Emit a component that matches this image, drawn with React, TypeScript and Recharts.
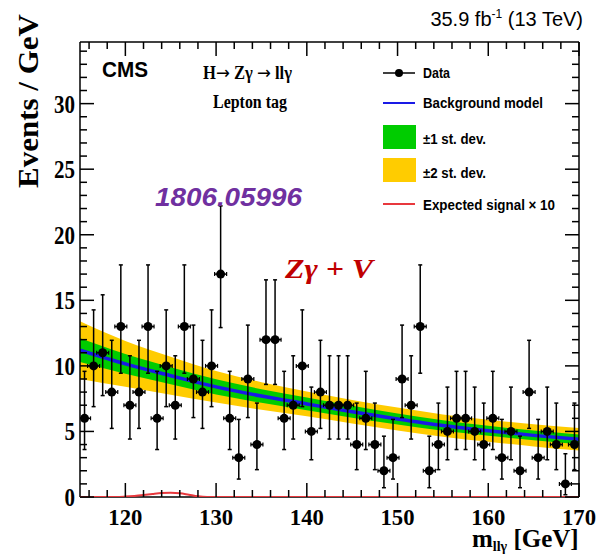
import { ComposedChart, Area, Line, Scatter, ErrorBar, XAxis, YAxis } from 'recharts'

// observed events per 1 GeV bin, 115-116 ... 169-170
const counts = [
  6, 10, 11, 8, 13, 7, 8, 13, 6, 10,
  7, 13, 9, 8, 10, 17, 6, 3, 9, 4,
  12, 12, 6, 7, 10, 5, 8, 7, 7, 7,
  4, 6, 4, 2, 3, 9, 7, 13, 2, 4,
  5, 6, 6, 5, 4, 6, 3, 5, 2, 8,
  3, 5, 4, 1, 4,
]
const binCenters = counts.map((_, i) => 115.5 + i)

// Garwood 68% interval bounds, indexed by observed count
const poissonLo = [0, 0.173, 0.708, 1.367, 2.086, 2.84, 3.62, 4.419, 5.232, 6.057, 6.891, 7.734, 8.585, 9.441, 10.3, 11.17, 12.04, 12.92]
const poissonHi = [1.841, 3.3, 4.638, 5.918, 7.163, 8.382, 9.584, 10.77, 11.95, 13.11, 14.27, 15.42, 16.56, 17.7, 18.83, 19.96, 21.08, 22.2]

// background fit and its uncertainty bands
const gridMass = [115, 120, 125, 130, 135, 140, 145, 150, 155, 160, 165, 170]
const bkgModel = [11.2, 10.15, 9.25, 8.4, 7.7, 7.1, 6.5, 5.95, 5.45, 5.05, 4.7, 4.4]
const band1 = [0.9, 0.75, 0.65, 0.58, 0.52, 0.48, 0.45, 0.42, 0.4, 0.38, 0.37, 0.37]
const band2 = [2.2, 1.75, 1.45, 1.2, 1.05, 0.95, 0.9, 0.87, 0.85, 0.84, 0.84, 0.86]

// expected signal x 10
const sigMass = [115, 119, 120, 121, 122, 123, 124, 125, 126, 127, 128, 129, 170]
const sigValues = [0, 0, 0.03, 0.08, 0.15, 0.23, 0.3, 0.33, 0.29, 0.17, 0.05, 0, 0]

const xTicks = [116, 118, 120, 122, 124, 126, 128, 130, 132, 134, 136, 138, 140, 142, 144, 146, 148, 150, 152, 154, 156, 158, 160, 162, 164, 166, 168, 170]
const yTicks = [0, 1, 2, 3, 4, 5, 6, 7, 8, 9, 10, 11, 12, 13, 14, 15, 16, 17, 18, 19, 20, 21, 22, 23, 24, 25, 26, 27, 28, 29, 30, 31, 32, 33, 34]

const points = counts.map((n, i) => ({
  x: binCenters[i],
  n,
  err: [n - poissonLo[n], poissonHi[n] - n],
}))

const bandRows = gridMass.map((x, i) => ({
  x,
  bkg: bkgModel[i],
  s1: [bkgModel[i] - band1[i], bkgModel[i] + band1[i]],
  s2: [bkgModel[i] - band2[i], bkgModel[i] + band2[i]],
}))

const sigRows = sigMass.map((x, i) => ({ x, sig: sigValues[i] }))

const SERIF = '"Liberation Serif", "Times New Roman", serif'
const SANS = '"Liberation Sans", Arial, sans-serif'

function BottomTick({ x, y, payload }: any) {
  const major = payload.value % 10 === 0
  return (
    <g>
      <line x1={x} y1={y} x2={x} y2={y - (major ? 14 : 7)} stroke="#000" strokeWidth={1.5} />
      {major && (
        <text x={x} y={y + 28} textAnchor="middle" fontFamily={SERIF} fontWeight="bold" fontSize={24}
          textLength={34} lengthAdjust="spacingAndGlyphs" fill="#000">
          {payload.value}
        </text>
      )}
    </g>
  )
}

function TopTick({ x, y, payload }: any) {
  const major = payload.value % 10 === 0
  return <line x1={x} y1={y} x2={x} y2={y + (major ? 14 : 7)} stroke="#000" strokeWidth={1.5} />
}

function LeftTick({ x, y, payload }: any) {
  const major = payload.value % 5 === 0
  const label = String(payload.value)
  return (
    <g>
      <line x1={x} y1={y} x2={x + (major ? 14 : 7)} y2={y} stroke="#000" strokeWidth={1.5} />
      {major && (
        <text x={x - 5} y={y + 9} textAnchor="end" fontFamily={SERIF} fontWeight="bold" fontSize={26}
          textLength={label.length * 10.5} lengthAdjust="spacingAndGlyphs" fill="#000">
          {label}
        </text>
      )}
    </g>
  )
}

function RightTick({ x, y, payload }: any) {
  const major = payload.value % 5 === 0
  return <line x1={x} y1={y} x2={x - (major ? 14 : 7)} y2={y} stroke="#000" strokeWidth={1.5} />
}

function DataMarker({ cx, cy }: any) {
  if (cx == null || cy == null) return <g />
  return (
    <g>
      <line x1={cx - 6} x2={cx + 6} y1={cy} y2={cy} stroke="#000" strokeWidth={1.5} />
      <line x1={cx - 6} x2={cx - 6} y1={cy - 2} y2={cy + 2} stroke="#000" strokeWidth={1.2} />
      <line x1={cx + 6} x2={cx + 6} y1={cy - 2} y2={cy + 2} stroke="#000" strokeWidth={1.2} />
      <circle cx={cx} cy={cy} r={4.5} fill="#000" />
    </g>
  )
}

function Overlay() {
  const leg = { fontFamily: SANS, fontWeight: 'bold' as const, fontSize: 15, fill: '#000' }
  const arrow = { fontFamily: '"DejaVu Sans", sans-serif', fontWeight: 'normal' as const }
  return (
    <svg width={597} height={556} style={{ position: 'absolute', left: 0, top: 0, pointerEvents: 'none' }}>
      <text x={583} y={26} textAnchor="end" fontFamily={SANS} fontSize={20} fill="#000">
        35.9 fb<tspan fontSize={12} dy={-8}>-1</tspan><tspan dy={8}> (13 TeV)</tspan>
      </text>
      <text transform="translate(38,14) rotate(-90)" textAnchor="end" fontFamily={SERIF} fontWeight="bold"
        fontSize={29} textLength={174} lengthAdjust="spacingAndGlyphs" fill="#000">
        Events / GeV
      </text>
      <text x={472} y={547} fontFamily={SERIF} fontWeight="bold" fontSize={25} fill="#000">
        m<tspan fontSize={14} dy={4}>llγ</tspan><tspan dy={-4}> [GeV]</tspan>
      </text>

      <text x={102} y={77} fontFamily={SANS} fontWeight="bold" fontSize={22} textLength={46}
        lengthAdjust="spacingAndGlyphs" fill="#000">CMS</text>
      <text x={203} y={79} fontFamily={SERIF} fontWeight="bold" fontSize={18} textLength={89}
        lengthAdjust="spacingAndGlyphs" fill="#000">
        H<tspan {...arrow}>→</tspan> Zγ <tspan {...arrow}>→</tspan> llγ
      </text>
      <text x={213} y={108} fontFamily={SERIF} fontWeight="bold" fontSize={18} textLength={74}
        lengthAdjust="spacingAndGlyphs" fill="#000">Lepton tag</text>

      <line x1={383} x2={415} y1={73} y2={73} stroke="#000" strokeWidth={1.5} />
      <circle cx={399} cy={73} r={4} fill="#000" />
      <text x={423} y={78} {...leg} textLength={27} lengthAdjust="spacingAndGlyphs">Data</text>

      <line x1={383} x2={415} y1={103} y2={103} stroke="#1a1ae6" strokeWidth={2} />
      <text x={423} y={108} {...leg} textLength={120} lengthAdjust="spacingAndGlyphs">Background model</text>

      <rect x={383} y={125} width={33} height={24} fill="#00cc00" />
      <text x={423} y={144} {...leg} textLength={63} lengthAdjust="spacingAndGlyphs">±1 st. dev.</text>

      <rect x={383} y={158} width={33} height={24} fill="#ffcc00" />
      <text x={423} y={178} {...leg} textLength={63} lengthAdjust="spacingAndGlyphs">±2 st. dev.</text>

      <line x1={383} x2={415} y1={204} y2={204} stroke="#e8383d" strokeWidth={2} />
      <text x={423} y={210} {...leg} textLength={132} lengthAdjust="spacingAndGlyphs">Expected signal × 10</text>

      <text x={155} y={206} fontFamily={SANS} fontWeight="bold" fontStyle="italic" fontSize={26}
        textLength={147} lengthAdjust="spacingAndGlyphs" fill="#7030a0">1806.05996</text>
      <text x={285} y={278} fontFamily={SERIF} fontWeight="bold" fontStyle="italic" fontSize={28}
        textLength={88} lengthAdjust="spacingAndGlyphs" fill="#c00000">Zγ + V</text>
    </svg>
  )
}

export default function App() {
  return (
    <div style={{ position: 'absolute', left: 0, top: 0, width: 597, height: 556, background: '#fff' }}>
      <ComposedChart width={597} height={556} data={bandRows}
        margin={{ top: 41, right: 17, bottom: 58, left: 79 }}>
        <XAxis dataKey="x" type="number" domain={[115, 170]} allowDataOverflow ticks={xTicks} interval={0}
          height={1} tickSize={0} tickMargin={0} tick={<BottomTick />} axisLine={{ stroke: '#000', strokeWidth: 1.5 }} />
        <XAxis xAxisId="top" orientation="top" dataKey="x" type="number" domain={[115, 170]} allowDataOverflow
          ticks={xTicks} interval={0} height={1} tickSize={0} tickMargin={0} tick={<TopTick />}
          axisLine={{ stroke: '#000', strokeWidth: 1.5 }} />
        <YAxis type="number" domain={[0, 34.7]} allowDataOverflow ticks={yTicks} interval={0} width={1}
          tickSize={0} tickMargin={0} tick={<LeftTick />} axisLine={{ stroke: '#000', strokeWidth: 1.5 }} />
        <YAxis yAxisId="right" orientation="right" type="number" domain={[0, 34.7]} allowDataOverflow ticks={yTicks}
          interval={0} width={1} tickSize={0} tickMargin={0} tick={<RightTick />}
          axisLine={{ stroke: '#000', strokeWidth: 1.5 }} />

        <Area dataKey="s2" type="monotone" stroke="none" fill="#ffcc00" fillOpacity={1} isAnimationActive={false} />
        <Area dataKey="s1" type="monotone" stroke="none" fill="#00cc00" fillOpacity={1} isAnimationActive={false} />
        <Line dataKey="bkg" type="monotone" stroke="#1a1ae6" strokeWidth={3.5} dot={false} isAnimationActive={false} />
        <Scatter data={sigRows} dataKey="sig" shape={() => <g />} line={{ stroke: '#e8383d', strokeWidth: 2 }}
          lineJointType="monotoneX" isAnimationActive={false} />
        <Scatter data={points} dataKey="n" shape={<DataMarker />} isAnimationActive={false}>
          <ErrorBar dataKey="err" direction="y" width={2} stroke="#000" strokeWidth={1.5} />
        </Scatter>
      </ComposedChart>
      <Overlay />
    </div>
  )
}
